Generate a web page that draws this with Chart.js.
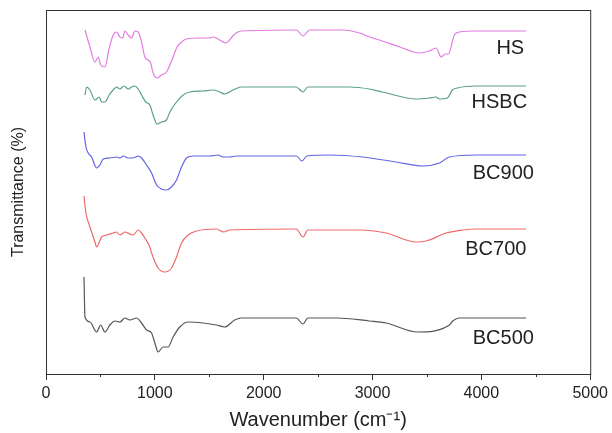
<!DOCTYPE html>
<html>
<head>
<meta charset="utf-8">
<script src="https://cdn.jsdelivr.net/npm/chart.js@4"></script>
<style>
  body { margin: 0; background: #fff; }
</style>
</head>
<body>
<canvas id="ftir" width="612" height="433"></canvas>
<script>
// FTIR spectra, offset vertically. [wavenumber, transmittance (arb.)]
const seriesNames = ['HS', 'HSBC', 'BC900', 'BC700', 'BC500'];
const seriesColors = ['#e27ce2', '#5a9f8a', '#6464e4', '#ee6a6a', '#555555'];

const hs = [[358,344],[404,327],[450,312],[480,317],[502,309],[541,307],[581,326],[617,339],[649,342],[679,337],[704,336],[725,343],[755,339],[786,336],[817,343],[847,342],[878,332],[908,317],[939,314],[961,311],[984,301],[1021,296],[1061,299],[1107,302],[1138,309],[1168,317],[1199,326],[1245,332],[1291,335],[1413,336],[1505,336],[1535,337],[1581,335],[1651,331],[1734,340],[1795,343],[2300,344],[2361,338],[2422,344],[2728,344],[2881,341],[2972,337],[3064,334],[3250,327],[3431,321],[3523,323],[3584,326],[3630,317],[3670,320],[3697,320],[3752,339],[3798,342],[3951,343],[4410,343]];

const hsbc = [[358,279],[373,287],[404,284],[450,274],[489,277],[511,272],[541,272],[581,279],[617,284],[649,287],[679,285],[716,288],[755,285],[786,287],[817,288],[847,285],[878,279],[917,272],[954,269],[984,259],[1021,250],[1061,252],[1107,254],[1138,262],[1199,272],[1260,279],[1321,282],[1443,283],[1535,284],[1596,282],[1642,280],[1718,284],[1795,287],[2300,287],[2361,282],[2406,287],[2789,287],[2972,285],[3092,282],[3401,275],[3523,276],[3584,277],[3615,275],[3688,276],[3734,284],[3780,286],[3951,288],[4410,288]];

const bc900 = [[349,242],[367,227],[388,221],[419,217],[465,206],[495,209],[526,215],[587,216],[649,217],[679,216],[709,218],[755,216],[801,216],[847,218],[878,216],[924,209],[970,201],[1016,189],[1061,185],[1107,184],[1153,187],[1199,194],[1245,207],[1291,216],[1351,218],[1505,218],[1581,219],[1627,217],[1688,217],[1750,218],[2300,218],[2351,213],[2397,218],[2606,219],[2908,217],[3217,212],[3461,208],[3615,211],[3706,217],[3951,219],[4410,219]];

const bc700 = [[349,178],[367,161],[404,147],[450,132],[465,127],[511,137],[557,139],[617,141],[649,142],[679,139],[725,142],[771,140],[801,139],[847,144],[878,141],[908,136],[954,127],[970,121],[1030,106],[1092,102],[1153,106],[1199,117],[1245,131],[1306,139],[1383,143],[1566,145],[1633,142],[1688,144],[2300,145],[2361,137],[2406,144],[2881,144],[3125,141],[3401,132],[3493,133],[3676,141],[3829,144],[3951,145],[4410,145]];

const bc500 = [[349,97],[358,57],[404,52],[465,42],[502,49],[541,42],[587,49],[633,53],[679,52],[725,56],[771,54],[832,56],[878,51],[924,44],[970,41],[1000,31],[1030,22],[1076,27],[1122,27],[1168,37],[1229,47],[1306,52],[1443,51],[1566,49],[1642,47],[1734,54],[1795,56],[2300,56],[2361,50],[2406,56],[2667,56],[2972,53],[3125,51],[3416,42],[3706,49],[3737,53],[3798,56],[4410,56]];

const allSeries = [hs, hsbc, bc900, bc700, bc500];
const minorTicks = [500, 1500, 2500, 3500, 4500];

// where the sample names sit (wavenumber, y)
const labelSpots = [[4266,326],[4165,272],[4202,201],[4133,125],[4202,36]];

const frame = {
    id: 'frame',
    afterDraw(chart) {
        const {ctx, chartArea: a, scales: {x, y}} = chart;
        ctx.save();
        ctx.strokeStyle = '#333';
        ctx.lineWidth = 1;
        ctx.strokeRect(a.left + 0.5, a.top + 0.5, a.right - a.left, a.bottom - a.top);
        minorTicks.forEach(v => {
            const px = Math.round(x.getPixelForValue(v)) + 0.5;
            ctx.beginPath();
            ctx.moveTo(px, a.bottom);
            ctx.lineTo(px, a.bottom + 3);
            ctx.stroke();
        });
        ctx.font = '20px "Liberation Sans", Arial, sans-serif';
        ctx.fillStyle = '#222';
        ctx.textAlign = 'center';
        ctx.textBaseline = 'middle';
        seriesNames.forEach((n, i) => {
            ctx.fillText(n, x.getPixelForValue(labelSpots[i][0]), y.getPixelForValue(labelSpots[i][1]));
        });
        ctx.restore();
    }
};

new Chart(document.getElementById('ftir').getContext('2d'), {
    type: 'line',
    data: {
        datasets: allSeries.map((s, i) => ({
            label: seriesNames[i],
            data: s.map(p => ({x: p[0], y: p[1]})),
            borderColor: seriesColors[i],
            borderWidth: 1.2,
            pointRadius: 0,
            cubicInterpolationMode: 'monotone',
            fill: false
        }))
    },
    options: {
        responsive: false,
        animation: false,
        layout: { padding: { top: 10, right: 21, bottom: 0, left: 0 } },
        plugins: { legend: { display: false }, tooltip: { enabled: false } },
        scales: {
            x: {
                type: 'linear',
                min: 0,
                max: 5000,
                afterFit: s => { s.height = 59; },
                ticks: {
                    stepSize: 1000,
                    color: '#222',
                    padding: 4,
                    maxRotation: 0,
                    callback: v => String(v),
                    font: { family: '"Liberation Sans", Arial, sans-serif', size: 16 }
                },
                grid: { drawOnChartArea: false, tickLength: 6, color: '#333' },
                border: { display: false },
                title: {
                    display: true,
                    text: 'Wavenumber (cm\u207B\u00B9)',
                    color: '#222',
                    padding: { top: 0, bottom: 1 },
                    font: { family: '"Liberation Sans", Arial, sans-serif', size: 20 }
                }
            },
            y: {
                min: 0,
                max: 364,
                afterFit: s => { s.width = 46; },
                ticks: { display: false },
                grid: { display: false },
                border: { display: false },
                title: {
                    display: true,
                    text: 'Transmittance (%)',
                    color: '#222',
                    padding: { top: 9, bottom: 0 },
                    font: { family: '"Liberation Sans", Arial, sans-serif', size: 16 }
                }
            }
        }
    },
    plugins: [frame]
});
</script>
</body>
</html>
